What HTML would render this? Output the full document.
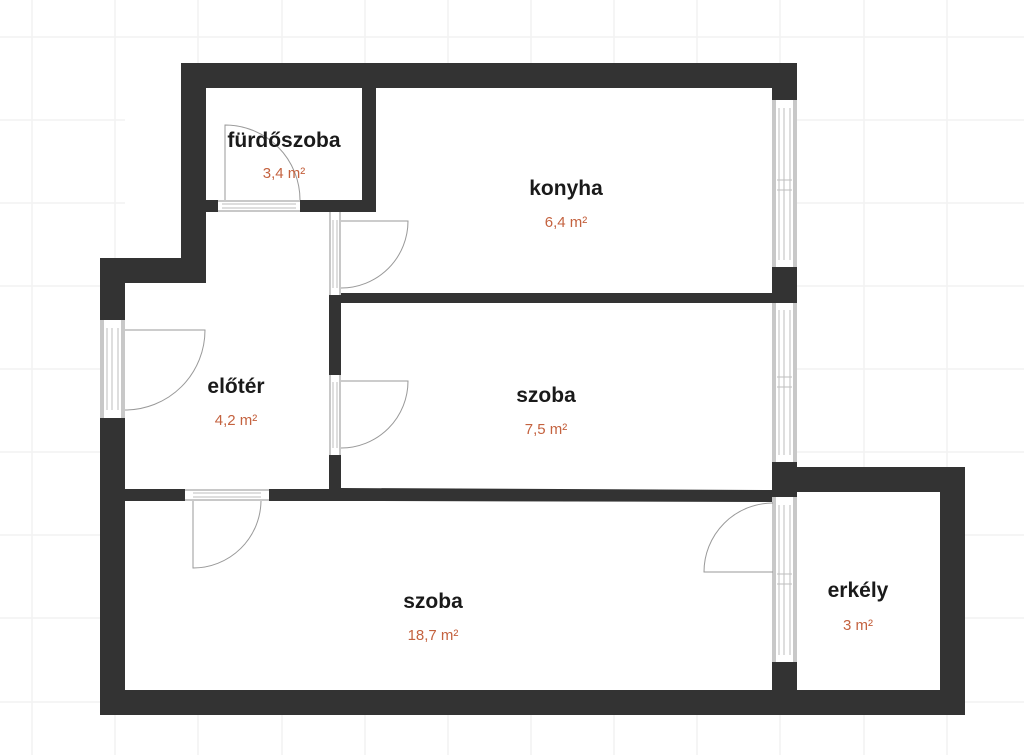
<!DOCTYPE html>
<html><head><meta charset="utf-8"><style>
html,body{margin:0;padding:0;background:#fff;}
svg{display:block;}
.t{font-family:"Liberation Sans",sans-serif;font-weight:bold;font-size:21px;fill:#1a1a1a;text-anchor:middle;}
.a{font-family:"Liberation Sans",sans-serif;font-size:15px;fill:#c4623f;text-anchor:middle;}
.g{stroke:#f2f2f2;stroke-width:1.5;}
.w{fill:#333;}
.fr{fill:#c8c8c8;}
.fi{fill:#fff;}
.fl{stroke:#bdbdbd;stroke-width:1;fill:none;}
.arc{stroke:#999;stroke-width:1;fill:none;}
</style></head><body>
<svg width="1024" height="755" viewBox="0 0 1024 755" xmlns="http://www.w3.org/2000/svg">
<g class="g">
<line x1="32" y1="0" x2="32" y2="755"/><line x1="115" y1="0" x2="115" y2="755"/><line x1="198" y1="0" x2="198" y2="755"/><line x1="282" y1="0" x2="282" y2="755"/><line x1="365" y1="0" x2="365" y2="755"/><line x1="448" y1="0" x2="448" y2="755"/><line x1="531" y1="0" x2="531" y2="755"/><line x1="614" y1="0" x2="614" y2="755"/><line x1="697" y1="0" x2="697" y2="755"/><line x1="780" y1="0" x2="780" y2="755"/><line x1="864" y1="0" x2="864" y2="755"/><line x1="947" y1="0" x2="947" y2="755"/>
<line x1="0" y1="37" x2="1024" y2="37"/><line x1="0" y1="120" x2="1024" y2="120"/><line x1="0" y1="203" x2="1024" y2="203"/><line x1="0" y1="286" x2="1024" y2="286"/><line x1="0" y1="369" x2="1024" y2="369"/><line x1="0" y1="452" x2="1024" y2="452"/><line x1="0" y1="535" x2="1024" y2="535"/><line x1="0" y1="618" x2="1024" y2="618"/><line x1="0" y1="702" x2="1024" y2="702"/>
</g>
<rect x="125" y="88" width="648" height="602" fill="#fff"/>
<rect x="797" y="492" width="143" height="198" fill="#fff"/>
<g class="w">
<rect x="181" y="63" width="616" height="25"/>
<rect x="181" y="63" width="25" height="220"/>
<rect x="100" y="258" width="106" height="25"/>
<rect x="100" y="258" width="25" height="457"/>
<rect x="100" y="690" width="697" height="25"/>
<rect x="772" y="63" width="25" height="652"/>
<rect x="772" y="467" width="193" height="25"/>
<rect x="940" y="467" width="25" height="248"/>
<rect x="772" y="690" width="193" height="25"/>
<rect x="362" y="88" width="14" height="124"/>
<rect x="206" y="200" width="170" height="12"/>
<rect x="329" y="293" width="444" height="10"/>
<rect x="329" y="212" width="12" height="278"/>
<polygon points="125,489 341,489 341,488 773,490 773,502 368,501 125,501"/>
</g>
<g>
<rect class="fr" x="772" y="100" width="25" height="167"/><rect class="fi" x="776" y="100" width="17" height="167"/>
<line class="fl" x1="779" y1="108" x2="779" y2="260"/><line class="fl" x1="784" y1="108" x2="784" y2="260"/><line class="fl" x1="790" y1="108" x2="790" y2="260"/><line class="fl" x1="777" y1="180" x2="792" y2="180"/><line class="fl" x1="777" y1="190" x2="792" y2="190"/>
<rect class="fr" x="772" y="303" width="25" height="159"/><rect class="fi" x="776" y="303" width="17" height="159"/>
<line class="fl" x1="779" y1="310" x2="779" y2="455"/><line class="fl" x1="784" y1="310" x2="784" y2="455"/><line class="fl" x1="790" y1="310" x2="790" y2="455"/><line class="fl" x1="777" y1="377" x2="792" y2="377"/><line class="fl" x1="777" y1="387" x2="792" y2="387"/>
<rect class="fr" x="772" y="497" width="25" height="165"/><rect class="fi" x="776" y="497" width="17" height="165"/>
<line class="fl" x1="779" y1="505" x2="779" y2="655"/><line class="fl" x1="784" y1="505" x2="784" y2="655"/><line class="fl" x1="790" y1="505" x2="790" y2="655"/><line class="fl" x1="777" y1="574" x2="792" y2="574"/><line class="fl" x1="777" y1="584" x2="792" y2="584"/>
<rect class="fr" x="100" y="320" width="25" height="98"/><rect class="fi" x="104" y="320" width="17" height="98"/>
<line class="fl" x1="107" y1="328" x2="107" y2="410"/><line class="fl" x1="112" y1="328" x2="112" y2="410"/><line class="fl" x1="118" y1="328" x2="118" y2="410"/>
<rect class="fr" x="218" y="200" width="82" height="12"/><rect class="fi" x="218" y="202" width="82" height="8"/>
<line class="fl" x1="222" y1="204" x2="296" y2="204"/><line class="fl" x1="222" y1="208" x2="296" y2="208"/>
<rect class="fr" x="329" y="212" width="12" height="83"/><rect class="fi" x="331" y="212" width="8" height="83"/>
<line class="fl" x1="333" y1="220" x2="333" y2="288"/><line class="fl" x1="337" y1="220" x2="337" y2="288"/>
<rect class="fr" x="329" y="375" width="12" height="80"/><rect class="fi" x="331" y="375" width="8" height="80"/>
<line class="fl" x1="333" y1="382" x2="333" y2="448"/><line class="fl" x1="337" y1="382" x2="337" y2="448"/>
<rect class="fr" x="185" y="489" width="84" height="12"/><rect class="fi" x="185" y="491" width="84" height="8"/>
<line class="fl" x1="193" y1="493" x2="261" y2="493"/><line class="fl" x1="193" y1="497" x2="261" y2="497"/>
</g>
<g class="arc">
<path d="M225,200 L225,125 A75,75 0 0 1 300,200"/>
<path d="M341,221 L408,221 A67,67 0 0 1 341,288"/>
<path d="M341,381 L408,381 A67,67 0 0 1 341,448"/>
<path d="M125,330 L205,330 A80,80 0 0 1 125,410"/>
<path d="M193,501 L193,568 A68,68 0 0 0 261,501"/>
<path d="M773,572 L704,572 A69,69 0 0 1 773,503"/>
</g>
<text class="t" x="284" y="147">fürdőszoba</text><text class="a" x="284" y="178">3,4 m²</text>
<text class="t" x="566" y="195">konyha</text><text class="a" x="566" y="227">6,4 m²</text>
<text class="t" x="236" y="393">előtér</text><text class="a" x="236" y="425">4,2 m²</text>
<text class="t" x="546" y="402">szoba</text><text class="a" x="546" y="434">7,5 m²</text>
<text class="t" x="433" y="608">szoba</text><text class="a" x="433" y="640">18,7 m²</text>
<text class="t" x="858" y="597">erkély</text><text class="a" x="858" y="630">3 m²</text>
</svg>
</body></html>
